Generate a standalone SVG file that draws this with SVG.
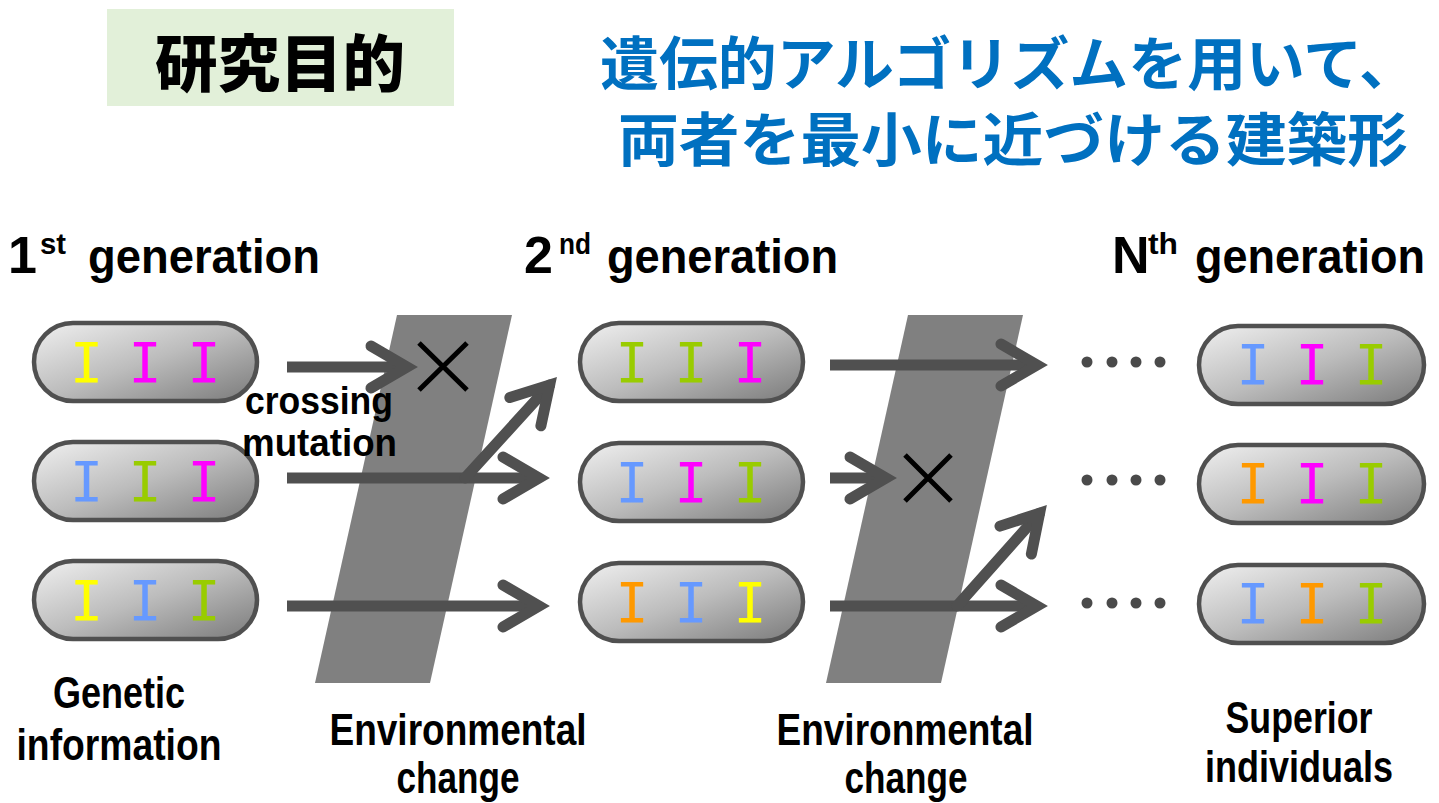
<svg xmlns="http://www.w3.org/2000/svg" width="1439" height="803" viewBox="0 0 1439 803">
<defs>
<linearGradient id="capg" x1="0" y1="0" x2="1" y2="1">
<stop offset="0" stop-color="#f0f0f0"/>
<stop offset="0.5" stop-color="#bcbcbc"/>
<stop offset="1" stop-color="#7a7a7a"/>
</linearGradient>
<marker id="chev" markerUnits="userSpaceOnUse" orient="auto" refX="0" refY="0" markerWidth="100" markerHeight="100" overflow="visible">
<path d="M -36 -21 L 0 0 L -36 21" fill="none" stroke="#505050" stroke-width="11" stroke-linecap="round" stroke-linejoin="miter" stroke-miterlimit="10"/>
</marker>
<style>
.cap{fill:url(#capg);stroke:#505050;stroke-width:4.5}
.gene{font-family:"DejaVu Sans Mono",monospace;font-size:55px;text-anchor:middle}
.y{fill:#ffff00}.m{fill:#ff00ff}.g{fill:#99cc00}.b{fill:#6699ff}.o{fill:#ff9900}
.arr{fill:none;stroke:#505050;stroke-width:11;marker-end:url(#chev)}
.br{fill:none;stroke:#505050;stroke-width:11;stroke-linecap:round;marker-end:url(#chev)}
.x{stroke:#000;stroke-width:5;fill:none}
.band{fill:#808080}
.lbl{font-family:"Liberation Sans",Arial,sans-serif;fill:#000;font-weight:bold}
.hd{font-size:52px}
.gn{font-size:48px}
.sup{font-size:30px}
.bl{font-size:45px;text-anchor:middle}
.dot{fill:#4a4a4a}
</style>
</defs>
<rect width="1439" height="803" fill="#ffffff"/>
<g id="title">
<rect x="107" y="9" width="347" height="97" fill="#e2f0d9"/>
<text x="280" y="87" font-family="'Noto Sans CJK JP',sans-serif" font-weight="900" font-size="62" text-anchor="middle" textLength="250" lengthAdjust="spacingAndGlyphs">研究目的</text>
</g>
<g id="purpose" font-family="'Noto Sans CJK JP',sans-serif" font-weight="bold" font-size="58" fill="#0070c0">
<text x="600" y="85" textLength="818" lengthAdjust="spacingAndGlyphs">遺伝的アルゴリズムを用いて、</text>
<text x="618" y="161" textLength="790" lengthAdjust="spacingAndGlyphs">両者を最小に近づける建築形</text>
</g>
<g id="bands">
<polygon class="band" points="397,315 512,315 430,683 315,683"/>
<polygon class="band" points="908,315 1023,315 941,683 826,683"/>
</g>
<g id="gen1">
<g id="g1r1"><rect class="cap" x="34" y="323" width="223" height="78" rx="39"/>
<text class="gene y" x="86.5" y="382">I</text><text class="gene m" x="145" y="382">I</text><text class="gene m" x="204" y="382">I</text></g>
<g id="g1r2"><rect class="cap" x="34" y="442" width="223" height="78" rx="39"/>
<text class="gene b" x="86.5" y="501">I</text><text class="gene g" x="145" y="501">I</text><text class="gene m" x="204" y="501">I</text></g>
<g id="g1r3"><rect class="cap" x="34" y="561" width="223" height="78" rx="39"/>
<text class="gene y" x="86.5" y="620">I</text><text class="gene b" x="145" y="620">I</text><text class="gene g" x="204" y="620">I</text></g>
</g>
<g id="gen2">
<g id="g2r1"><rect class="cap" x="580" y="323" width="223" height="78" rx="39"/>
<text class="gene g" x="632" y="382">I</text><text class="gene g" x="691" y="382">I</text><text class="gene m" x="750" y="382">I</text></g>
<g id="g2r2"><rect class="cap" x="580" y="443" width="223" height="78" rx="39"/>
<text class="gene b" x="632" y="502">I</text><text class="gene m" x="691" y="502">I</text><text class="gene g" x="750" y="502">I</text></g>
<g id="g2r3"><rect class="cap" x="580" y="563" width="223" height="78" rx="39"/>
<text class="gene o" x="632" y="622">I</text><text class="gene b" x="691" y="622">I</text><text class="gene y" x="750" y="622">I</text></g>
</g>
<g id="genN">
<g id="gNr1"><rect class="cap" x="1199" y="326" width="225" height="78" rx="39"/>
<text class="gene b" x="1253" y="384">I</text><text class="gene m" x="1312" y="384">I</text><text class="gene g" x="1371" y="384">I</text></g>
<g id="gNr2"><rect class="cap" x="1199" y="445" width="225" height="78" rx="39"/>
<text class="gene o" x="1253" y="503">I</text><text class="gene m" x="1312" y="503">I</text><text class="gene g" x="1371" y="503">I</text></g>
<g id="gNr3"><rect class="cap" x="1199" y="565" width="225" height="78" rx="39"/>
<text class="gene b" x="1253" y="623">I</text><text class="gene o" x="1312" y="623">I</text><text class="gene g" x="1371" y="623">I</text></g>
</g>
<g id="connectors">
<line class="arr" x1="287" y1="367" x2="407" y2="367"/>
<line class="arr" x1="287" y1="478" x2="539" y2="478"/>
<line class="br" x1="465" y1="478" x2="549.6" y2="385.1"/>
<line class="arr" x1="287" y1="606" x2="539" y2="606"/>
<line class="arr" x1="830" y1="365" x2="1037" y2="365"/>
<line class="arr" x1="830" y1="478" x2="886" y2="478"/>
<line class="arr" x1="830" y1="606" x2="1037" y2="606"/>
<line class="br" x1="957" y1="606" x2="1039.6" y2="513.2"/>
</g>
<g id="xmarks">
<path class="x" d="M419 343 L467 390 M467 343 L419 390"/>
<path class="x" d="M905 455 L951 501 M951 455 L905 501"/>
</g>
<g id="dots">
<circle class="dot" cx="1087" cy="362" r="5.5"/><circle class="dot" cx="1112" cy="362" r="5.5"/><circle class="dot" cx="1136" cy="362" r="5.5"/><circle class="dot" cx="1160" cy="362" r="5.5"/>
<circle class="dot" cx="1087" cy="480" r="5.5"/><circle class="dot" cx="1112" cy="480" r="5.5"/><circle class="dot" cx="1136" cy="480" r="5.5"/><circle class="dot" cx="1160" cy="480" r="5.5"/>
<circle class="dot" cx="1087" cy="603" r="5.5"/><circle class="dot" cx="1112" cy="603" r="5.5"/><circle class="dot" cx="1136" cy="603" r="5.5"/><circle class="dot" cx="1160" cy="603" r="5.5"/>
</g>
<g id="headers" class="lbl">
<text class="hd" x="8" y="273">1</text>
<text class="sup" x="40" y="254" textLength="26" lengthAdjust="spacingAndGlyphs">st</text>
<text class="gn" x="88" y="273" textLength="232" lengthAdjust="spacingAndGlyphs">generation</text>
<text class="hd" x="524" y="273">2</text>
<text class="sup" x="559" y="254" textLength="32" lengthAdjust="spacingAndGlyphs">nd</text>
<text class="gn" x="607" y="273" textLength="231" lengthAdjust="spacingAndGlyphs">generation</text>
<text class="hd" x="1112" y="273">N</text>
<text class="sup" x="1148" y="254" textLength="30" lengthAdjust="spacingAndGlyphs">th</text>
<text class="gn" x="1195" y="273" textLength="230" lengthAdjust="spacingAndGlyphs">generation</text>
</g>
<g id="labels" class="lbl">
<text font-size="38" x="245" y="414" textLength="148" lengthAdjust="spacingAndGlyphs">crossing</text>
<text font-size="38" x="242" y="456" textLength="155" lengthAdjust="spacingAndGlyphs">mutation</text>
<text class="bl" x="119" y="708" textLength="132" lengthAdjust="spacingAndGlyphs">Genetic</text>
<text class="bl" x="119" y="760" textLength="205" lengthAdjust="spacingAndGlyphs">information</text>
<text class="bl" x="458" y="745" textLength="257" lengthAdjust="spacingAndGlyphs">Environmental</text>
<text class="bl" x="458" y="793" textLength="123" lengthAdjust="spacingAndGlyphs">change</text>
<text class="bl" x="905" y="745" textLength="257" lengthAdjust="spacingAndGlyphs">Environmental</text>
<text class="bl" x="906" y="793" textLength="123" lengthAdjust="spacingAndGlyphs">change</text>
<text class="bl" x="1299" y="733" textLength="147" lengthAdjust="spacingAndGlyphs">Superior</text>
<text class="bl" x="1299" y="782" textLength="188" lengthAdjust="spacingAndGlyphs">individuals</text>
</g>
</svg>
